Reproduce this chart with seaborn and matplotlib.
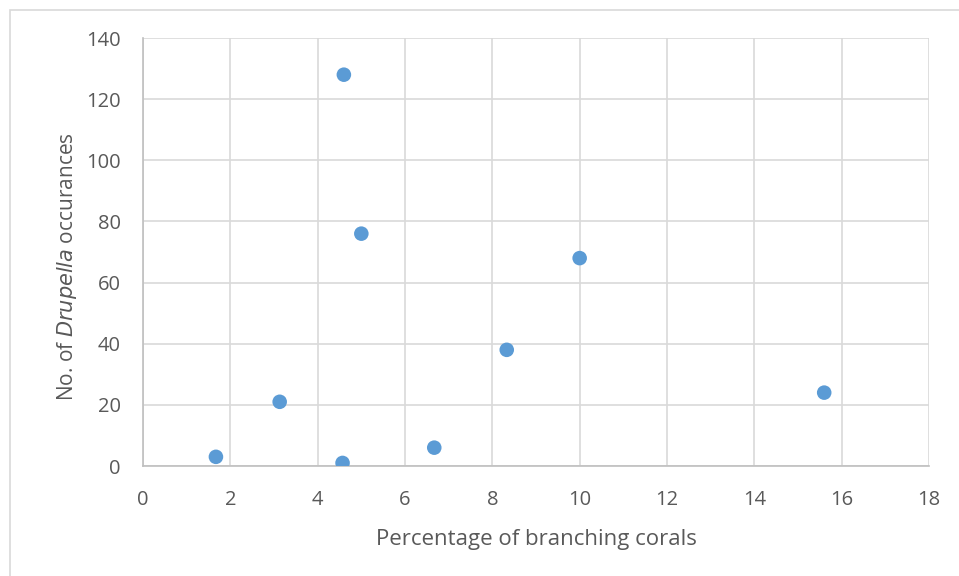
import matplotlib
matplotlib.use("Agg")
import matplotlib.pyplot as plt
import seaborn as sns
import pandas as pd
from matplotlib.patches import Rectangle

# --- Data ---
branching_pct = [1.67, 3.13, 4.6, 4.57, 5.0, 6.67, 8.33, 10.0, 15.6]
drupella_count = [3, 21, 128, 1, 76, 6, 38, 68, 24]

x_ticks = [0, 2, 4, 6, 8, 10, 12, 14, 16, 18]
y_ticks = [0, 20, 40, 60, 80, 100, 120, 140]

df = pd.DataFrame({"pct": branching_pct, "count": drupella_count})

sns.set_style("white")
plt.rcParams["font.family"] = ["Open Sans", "DejaVu Sans"]

text_col = "#595959"
grid_col = "#d9d9d9"

fig = plt.figure(figsize=(9.59, 5.76), dpi=100)
ax = fig.add_axes([143 / 959, 110 / 576, 786 / 959, 428 / 576])

sns.scatterplot(data=df, x="pct", y="count", ax=ax, color="#5b9bd5",
                s=110, edgecolor="none", zorder=3, legend=False)

ax.set_xlim(0, 18)
ax.set_ylim(0, 140)
ax.set_xticks(x_ticks)
ax.set_yticks(y_ticks)
ax.grid(True, color=grid_col, linewidth=1.2)
ax.set_axisbelow(True)

for side in ["top", "right"]:
    ax.spines[side].set_visible(False)
for side in ["left", "bottom"]:
    ax.spines[side].set_color("#bfbfbf")
    ax.spines[side].set_linewidth(1.2)

ax.tick_params(axis="both", length=0, labelsize=14.5, colors=text_col)
ax.tick_params(axis="y", pad=16)
ax.tick_params(axis="x", pad=17)

ax.set_xlabel("Percentage of branching corals", fontsize=16, color=text_col, labelpad=14)
ax.set_ylabel("No. of $\\it{Drupella}$ occurances", fontsize=15, color=text_col)
ax.yaxis.set_label_coords(-64 / 786, 0.467)

# light chart-area border
fig.patches.append(Rectangle((10 / 959, -0.01), 1.0, 1.0 - 10 / 576 + 0.01,
                             transform=fig.transFigure, fill=False,
                             edgecolor="#d9d9d9", linewidth=1.2))

fig.savefig("out.png", dpi=100)
